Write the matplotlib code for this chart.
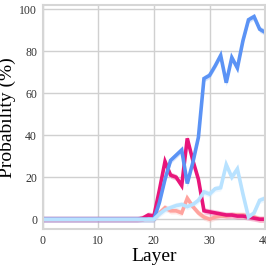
import numpy as np
import matplotlib.pyplot as plt

plt.rcParams['font.family'] = ['Liberation Serif', 'DejaVu Serif']

layers = np.arange(0, 41)

# values (layers 0..40)
blue = [0]*21 + [8, 19, 28, 30.5, 33, 17, 27, 39, 67, 68.5, 73, 78, 65, 77, 72, 85, 95, 96.5, 90.5, 89]
magenta = [0]*18 + [0.5, 2, 1.5, 14, 27.5, 21, 20, 16, 38.5, 28, 19, 4, 3.5, 3, 2.5, 2, 2, 1.5, 1.5, 1, 0.5, 0, 0]
salmon = [0]*21 + [3, 5.5, 4, 4, 3, 10, 6, 3, 1, 0, 1, 1.5, 1.5, 2, 2, 2, 1.5, 1, 0, 0]
lightblue = [0]*21 + [2.5, 4.5, 5.5, 6.5, 7, 6, 7, 9, 13, 12, 14.5, 15, 26, 20, 24, 12, 1, 3, 9, 10]

series = [
    (salmon, "#ffa39e"),
    (magenta, "#e8157a"),
    (blue, "#5b93f5"),
    (lightblue, "#b8e2ff"),
]

fig = plt.figure(figsize=(2.66, 2.66), dpi=100)
ax = fig.add_axes([0.16, 0.138, 0.837, 0.843])

for vals, col in series:
    vals = np.array(vals, dtype=float)
    ax.fill_between(layers, vals - 1.5, vals + 1.5, color=col, alpha=0.25, lw=0)
    ax.plot(layers, vals, color=col, lw=2.6, solid_joinstyle="miter")

ax.set_xlim(0, 40)
ax.set_ylim(-4.8, 102)
ax.set_xticks([0, 10, 20, 30, 40])
ax.set_yticks([0, 20, 40, 60, 80, 100])
ax.grid(True, color="#d0d0d0", lw=1)
ax.set_axisbelow(True)
for s in ax.spines.values():
    s.set_color("#d6d6d6")
    s.set_linewidth(1.5)
ax.tick_params(length=0, labelsize=8.5, colors="#333333", pad=4)
ax.set_xlabel("Layer", fontsize=14, labelpad=1)
ax.set_ylabel("Probability (%)", fontsize=14, labelpad=2)

fig.savefig("out.png", dpi=100)
